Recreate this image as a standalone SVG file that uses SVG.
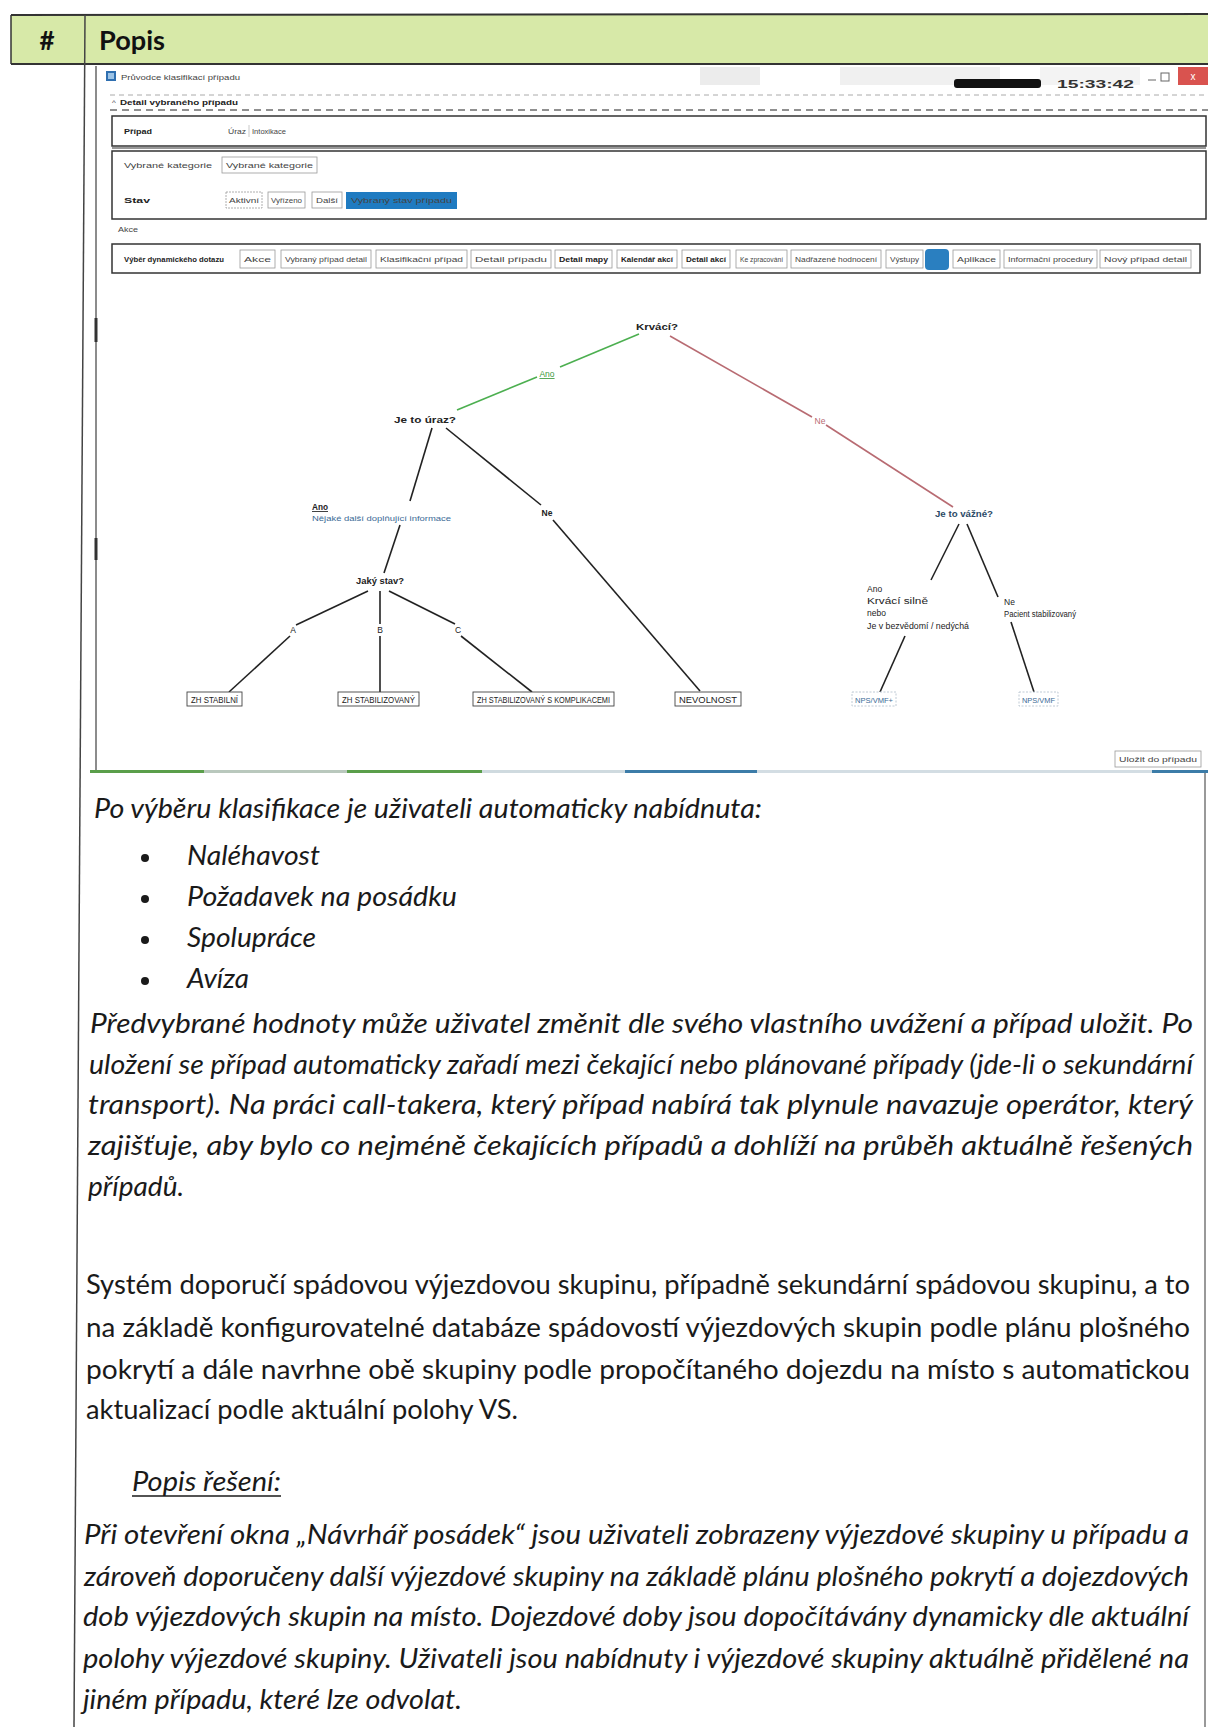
<svg xmlns="http://www.w3.org/2000/svg" width="1208" height="1727" viewBox="0 0 1208 1727">
<defs>
<style>
.hdr{font-family:Lato,'Open Sans','Liberation Sans',sans-serif;font-weight:700;font-size:26px;fill:#111}
.it{font-family:Lato,'Open Sans','Liberation Sans',sans-serif;font-style:italic;font-size:27px;fill:#1a1a1a}
.rg{font-family:Lato,'Open Sans','Liberation Sans',sans-serif;font-size:27px;fill:#1a1a1a}
.ui{font-family:'Liberation Sans',Arial,sans-serif;font-size:8px;fill:#444}
.uib{font-family:'Liberation Sans',Arial,sans-serif;font-size:8px;font-weight:700;fill:#222}
.btn{fill:#fff;stroke:#9a9a9a;stroke-width:0.8}
.box{fill:#fff;stroke:#333;stroke-width:1.5}
.t{font-family:'Liberation Sans',Arial,sans-serif;font-size:8.5px;fill:#222}
.tb{font-family:'Liberation Sans',Arial,sans-serif;font-size:8.5px;font-weight:700;fill:#222}
.tl{font-family:'Liberation Sans',Arial,sans-serif;font-size:8px;fill:#3a6a96}
.edge{stroke:#222;stroke-width:1.6;fill:none}
.leaf{fill:#fff;stroke:#444;stroke-width:0.9}
.leafl{fill:#fff;stroke:#b8c4d0;stroke-width:0.9;stroke-dasharray:2 1.5}
</style>
</defs>
<rect x="0" y="0" width="1208" height="1727" fill="#fff"/>

<g id="table">
  <rect x="11" y="15" width="1197" height="49" fill="#d7e9a8"/>
  <line x1="11" y1="15" x2="1208" y2="14" stroke="#333" stroke-width="2"/>
  <line x1="11" y1="64" x2="1208" y2="64" stroke="#333" stroke-width="2"/>
  <line x1="11" y1="15" x2="11" y2="64" stroke="#333" stroke-width="1.5"/>
  <line x1="85" y1="15" x2="74" y2="1727" stroke="#444" stroke-width="1.5"/>
  <line x1="1205" y1="772" x2="1205" y2="1727" stroke="#555" stroke-width="1.2"/>
  <text class="hdr" x="47" y="50" text-anchor="middle">#</text>
  <text class="hdr" x="99" y="50" textLength="66" lengthAdjust="spacingAndGlyphs">Popis</text>
</g>

<g id="screenshot">
  <g id="window-title">
    <rect x="700" y="67" width="60" height="18" fill="#ececec"/>
    <rect x="840" y="67" width="160" height="18" fill="#f0f0f0"/>
    <rect x="1040" y="67" width="100" height="18" fill="#f3f3f3"/>
    <rect x="106" y="71" width="10" height="10" fill="#2f6fb0"/>
    <rect x="108" y="73" width="6" height="6" fill="#9cc3e6"/>
    <text class="ui" x="121" y="80" textLength="119" lengthAdjust="spacingAndGlyphs">Průvodce klasifikací případu</text>
    <rect x="954" y="79" width="87" height="9" rx="3" fill="#111"/>
    <text x="1057" y="88" font-family="'Liberation Sans',Arial,sans-serif" font-size="11" font-weight="700" fill="#333" textLength="77" lengthAdjust="spacingAndGlyphs">15:33:42</text>
    <line x1="1148" y1="80" x2="1156" y2="80" stroke="#666" stroke-width="1"/>
    <rect x="1161" y="73" width="8" height="8" fill="none" stroke="#666" stroke-width="1"/>
    <rect x="1178" y="67" width="30" height="18" fill="#d9534f"/>
    <text x="1193" y="80" font-family="'Liberation Sans',Arial,sans-serif" font-size="10" fill="#fff" text-anchor="middle">x</text>
  </g>

  <line x1="110" y1="95" x2="1208" y2="95" stroke="#aaa" stroke-width="1" stroke-dasharray="5 4"/>
  <text class="ui" x="112" y="105">^</text>
  <text class="uib" x="120" y="105" textLength="118" lengthAdjust="spacingAndGlyphs">Detail vybraného případu</text>
  <line x1="110" y1="110" x2="1208" y2="110" stroke="#222" stroke-width="1.2" stroke-dasharray="7 5"/>

  <g id="box-case">
    <rect class="box" x="112" y="116" width="1094" height="30"/>
    <text class="uib" x="124" y="134" textLength="28" lengthAdjust="spacingAndGlyphs">Případ</text>
    <text class="ui" x="228" y="134" textLength="18" lengthAdjust="spacingAndGlyphs">Úraz</text>
    <line x1="249" y1="125" x2="249" y2="137" stroke="#bbb" stroke-width="0.8"/>
    <text class="ui" x="252" y="134" textLength="34" lengthAdjust="spacingAndGlyphs">Intoxikace</text>
  </g>
  <line x1="112" y1="148" x2="1206" y2="148" stroke="#333" stroke-width="1.2"/>

  <g id="box-state">
    <rect class="box" x="112" y="151" width="1094" height="68"/>
    <text class="ui" x="124" y="168" fill="#6f87a6" textLength="88" lengthAdjust="spacingAndGlyphs">Vybrané kategorie</text>
    <rect class="btn" x="222" y="157" width="95" height="16"/>
    <text class="ui" x="226" y="168" fill="#6f87a6" textLength="87" lengthAdjust="spacingAndGlyphs">Vybrané kategorie</text>
    <text class="uib" x="124" y="203" textLength="26" lengthAdjust="spacingAndGlyphs">Stav</text>
    <rect class="btn" x="226" y="192" width="36" height="16" stroke-dasharray="2 1"/>
    <text class="ui" x="229" y="203" textLength="30" lengthAdjust="spacingAndGlyphs">Aktivní</text>
    <rect class="btn" x="268" y="192" width="37" height="16"/>
    <text class="ui" x="271" y="203" textLength="31" lengthAdjust="spacingAndGlyphs">Vyřízeno</text>
    <rect class="btn" x="312" y="192" width="30" height="16"/>
    <text class="ui" x="316" y="203" textLength="22" lengthAdjust="spacingAndGlyphs">Další</text>
    <rect x="346" y="192" width="111" height="17" fill="#1f7bc1"/>
    <text class="ui" x="351" y="203" fill="#cfe3f5" textLength="101" lengthAdjust="spacingAndGlyphs">Vybraný stav případu</text>
  </g>

  <text class="ui" x="118" y="232" fill="#999" textLength="20" lengthAdjust="spacingAndGlyphs">Akce</text>

  <g id="box-toolbar">
    <rect class="box" x="112" y="244" width="1088" height="29"/>
    <text class="uib" x="124" y="262" textLength="100" lengthAdjust="spacingAndGlyphs">Výběr dynamického dotazu</text>
    <rect class="btn" x="240" y="250" width="35" height="18"/><text class="ui" x="244" y="262" textLength="27" lengthAdjust="spacingAndGlyphs">Akce</text>
    <rect class="btn" x="281" y="250" width="90" height="18"/><text class="ui" x="285" y="262" textLength="82" lengthAdjust="spacingAndGlyphs">Vybraný případ detail</text>
    <rect class="btn" x="376" y="250" width="91" height="18"/><text class="ui" x="380" y="262" textLength="83" lengthAdjust="spacingAndGlyphs">Klasifikační případ</text>
    <rect class="btn" x="471" y="250" width="80" height="18"/><text class="ui" x="475" y="262" textLength="72" lengthAdjust="spacingAndGlyphs">Detail případu</text>
    <rect class="btn" x="555" y="250" width="57" height="18"/><text class="uib" x="559" y="262" textLength="49" lengthAdjust="spacingAndGlyphs">Detail mapy</text>
    <rect class="btn" x="617" y="250" width="60" height="18"/><text class="uib" x="621" y="262" textLength="52" lengthAdjust="spacingAndGlyphs">Kalendář akcí</text>
    <rect class="btn" x="682" y="250" width="48" height="18"/><text class="uib" x="686" y="262" textLength="40" lengthAdjust="spacingAndGlyphs">Detail akcí</text>
    <rect class="btn" x="736" y="250" width="51" height="18"/><text class="ui" x="740" y="262" fill="#7a9cc0" textLength="43" lengthAdjust="spacingAndGlyphs">Ke zpracování</text>
    <rect class="btn" x="791" y="250" width="90" height="18"/><text class="ui" x="795" y="262" fill="#888" textLength="82" lengthAdjust="spacingAndGlyphs">Nadřazené hodnocení</text>
    <rect class="btn" x="886" y="250" width="37" height="18"/><text class="ui" x="890" y="262" fill="#888" textLength="29" lengthAdjust="spacingAndGlyphs">Výstupy</text>
    <rect x="925" y="249" width="24" height="21" rx="4" fill="#2a7fc0"/>
    <rect class="btn" x="953" y="250" width="47" height="18"/><text class="ui" x="957" y="262" fill="#888" textLength="39" lengthAdjust="spacingAndGlyphs">Aplikace</text>
    <rect class="btn" x="1004" y="250" width="93" height="18"/><text class="ui" x="1008" y="262" fill="#888" textLength="85" lengthAdjust="spacingAndGlyphs">Informační procedury</text>
    <rect class="btn" x="1100" y="250" width="91" height="18"/><text class="ui" x="1104" y="262" fill="#888" textLength="83" lengthAdjust="spacingAndGlyphs">Nový případ detail</text>
  </g>

  <line x1="96" y1="66" x2="96" y2="773" stroke="#666" stroke-width="1.5"/>
  <line x1="96" y1="318" x2="96" y2="342" stroke="#333" stroke-width="3"/>
  <line x1="96" y1="538" x2="96" y2="560" stroke="#333" stroke-width="3"/>

  <g id="connectors">
    <line x1="639" y1="334" x2="560" y2="367" stroke="#4caf50" stroke-width="1.6"/>
    <line x1="537" y1="377" x2="457" y2="410" stroke="#4caf50" stroke-width="1.6"/>
    <line x1="670" y1="336" x2="812" y2="417" stroke="#b86b72" stroke-width="1.6"/>
    <line x1="826" y1="425" x2="953" y2="507" stroke="#b86b72" stroke-width="1.6"/>
    <line class="edge" x1="432" y1="428" x2="410" y2="501"/>
    <line class="edge" x1="400" y1="525" x2="384" y2="573"/>
    <line class="edge" x1="446" y1="428" x2="541" y2="505"/>
    <line class="edge" x1="553" y1="520" x2="700" y2="691"/>
    <line class="edge" x1="368" y1="591" x2="296" y2="625"/>
    <line class="edge" x1="290" y1="636" x2="229" y2="692"/>
    <line class="edge" x1="380" y1="591" x2="380" y2="624"/>
    <line class="edge" x1="380" y1="636" x2="380" y2="692"/>
    <line class="edge" x1="389" y1="591" x2="455" y2="624"/>
    <line class="edge" x1="461" y1="636" x2="532" y2="692"/>
    <line class="edge" x1="959" y1="524" x2="931" y2="580"/>
    <line class="edge" x1="905" y1="636" x2="880" y2="692"/>
    <line class="edge" x1="967" y1="524" x2="998" y2="597"/>
    <line class="edge" x1="1011" y1="622" x2="1034" y2="692"/>
  </g>

  <g id="node-krvaci"><text class="tb" x="657" y="330" text-anchor="middle" textLength="42" lengthAdjust="spacingAndGlyphs">Krvácí?</text></g>
  <g id="label-ano1"><text x="547" y="377" font-family="'Liberation Sans',Arial,sans-serif" font-size="8.5" fill="#3c9a40" text-anchor="middle" text-decoration="underline">Ano</text></g>
  <g id="label-ne1"><text x="820" y="424" font-family="'Liberation Sans',Arial,sans-serif" font-size="8.5" fill="#b86b72" text-anchor="middle">Ne</text></g>
  <g id="node-uraz"><text class="tb" x="425" y="423" text-anchor="middle" textLength="62" lengthAdjust="spacingAndGlyphs">Je to úraz?</text></g>
  <g id="label-ano2">
    <text class="tb" x="312" y="510" text-decoration="underline" textLength="16" lengthAdjust="spacingAndGlyphs">Ano</text>
    <text class="tl" x="312" y="521" textLength="139" lengthAdjust="spacingAndGlyphs">Nějaké další doplňující informace</text>
  </g>
  <g id="label-ne2"><text class="tb" x="547" y="516" text-anchor="middle">Ne</text></g>
  <g id="node-stav"><text class="tb" x="380" y="584" text-anchor="middle" textLength="48" lengthAdjust="spacingAndGlyphs">Jaký stav?</text></g>
  <g id="label-a"><text class="t" x="293" y="633" text-anchor="middle">A</text></g>
  <g id="label-b"><text class="t" x="380" y="633" text-anchor="middle">B</text></g>
  <g id="label-c"><text class="t" x="458" y="633" text-anchor="middle">C</text></g>
  <g id="leaf-zh1">
    <rect class="leaf" x="187" y="692" width="55" height="14"/>
    <text class="t" x="191" y="703" textLength="47" lengthAdjust="spacingAndGlyphs">ZH STABILNÍ</text>
  </g>
  <g id="leaf-zh2">
    <rect class="leaf" x="338" y="692" width="81" height="14"/>
    <text class="t" x="342" y="703" textLength="73" lengthAdjust="spacingAndGlyphs">ZH STABILIZOVANÝ</text>
  </g>
  <g id="leaf-zh3">
    <rect class="leaf" x="473" y="692" width="141" height="14" stroke="#c4c4c4"/>
    <text class="t" x="477" y="703" fill="#5b7590" textLength="133" lengthAdjust="spacingAndGlyphs">ZH STABILIZOVANÝ S KOMPLIKACEMI</text>
  </g>
  <g id="leaf-nevolnost">
    <rect class="leaf" x="675" y="692" width="66" height="14"/>
    <text class="t" x="679" y="703" textLength="58" lengthAdjust="spacingAndGlyphs">NEVOLNOST</text>
  </g>
  <g id="node-vazne"><text x="964" y="517" font-family="'Liberation Sans',Arial,sans-serif" font-size="9" font-weight="700" fill="#2c4a66" text-anchor="middle" textLength="58" lengthAdjust="spacingAndGlyphs">Je to vážné?</text></g>
  <g id="label-ano3">
    <text class="t" x="867" y="592" font-size="7.5">Ano</text>
    <text class="t" x="867" y="604" textLength="61" lengthAdjust="spacingAndGlyphs">Krvácí silně</text>
    <text class="t" x="867" y="616" font-size="7.5">nebo</text>
    <text class="t" x="867" y="629" textLength="102" lengthAdjust="spacingAndGlyphs">Je v bezvědomí / nedýchá</text>
  </g>
  <g id="label-ne3">
    <text class="t" x="1004" y="605">Ne</text>
    <text class="t" x="1004" y="617" textLength="72" lengthAdjust="spacingAndGlyphs">Pacient stabilizovaný</text>
  </g>
  <g id="leaf-nps1">
    <rect class="leafl" x="852" y="692" width="44" height="14"/>
    <text class="tl" x="855" y="703" textLength="38" lengthAdjust="spacingAndGlyphs">NPS/VMF+</text>
  </g>
  <g id="leaf-nps2">
    <rect class="leafl" x="1019" y="692" width="39" height="14"/>
    <text class="tl" x="1022" y="703" textLength="33" lengthAdjust="spacingAndGlyphs">NPS/VMF</text>
  </g>

  <g id="save-button">
    <rect class="btn" x="1115" y="751" width="86" height="16" stroke="#aaa"/>
    <text class="ui" x="1119" y="762" textLength="78" lengthAdjust="spacingAndGlyphs">Uložit do případu</text>
  </g>

  <g id="progress">
    <rect x="90" y="770" width="114" height="3" fill="#5a9e4a"/>
    <rect x="204" y="770" width="143" height="3" fill="#b9c8bd"/>
    <rect x="347" y="770" width="135" height="3" fill="#5a9e4a"/>
    <rect x="482" y="770" width="143" height="3" fill="#cfdadf"/>
    <rect x="625" y="770" width="132" height="3" fill="#3c7ca8"/>
    <rect x="757" y="770" width="395" height="3" fill="#d3dde3"/>
    <rect x="1152" y="770" width="56" height="3" fill="#3c7ca8"/>
  </g>
</g>

<g id="text-offer">
  <text class="it" x="94" y="818" textLength="668" lengthAdjust="spacingAndGlyphs">Po výběru klasifikace je uživateli automaticky nabídnuta:</text>
  <circle cx="145" cy="858" r="4" fill="#1a1a1a"/>
  <text class="it" x="187" y="865" textLength="133" lengthAdjust="spacingAndGlyphs">Naléhavost</text>
  <circle cx="145" cy="899" r="4" fill="#1a1a1a"/>
  <text class="it" x="187" y="906" textLength="270" lengthAdjust="spacingAndGlyphs">Požadavek na posádku</text>
  <circle cx="145" cy="940" r="4" fill="#1a1a1a"/>
  <text class="it" x="187" y="947" textLength="129" lengthAdjust="spacingAndGlyphs">Spolupráce</text>
  <circle cx="145" cy="981" r="4" fill="#1a1a1a"/>
  <text class="it" x="187" y="988" textLength="62" lengthAdjust="spacingAndGlyphs">Avíza</text>
</g>

<g id="text-paragraph-1">
  <text class="it" x="90" y="1033" textLength="1103" lengthAdjust="spacingAndGlyphs">Předvybrané hodnoty může uživatel změnit dle svého vlastního uvážení a případ uložit. Po</text>
  <text class="it" x="89" y="1074" textLength="1104" lengthAdjust="spacingAndGlyphs">uložení se případ automaticky zařadí mezi čekající nebo plánované případy (jde-li o sekundární</text>
  <text class="it" x="88" y="1114" textLength="1105" lengthAdjust="spacingAndGlyphs">transport). Na práci call-takera, který případ nabírá tak plynule navazuje operátor, který</text>
  <text class="it" x="88" y="1155" textLength="1105" lengthAdjust="spacingAndGlyphs">zajišťuje, aby bylo co nejméně čekajících případů a dohlíží na průběh aktuálně řešených</text>
  <text class="it" x="88" y="1196" textLength="96" lengthAdjust="spacingAndGlyphs">případů.</text>
</g>

<g id="text-paragraph-2">
  <text class="rg" x="86" y="1294" textLength="1104" lengthAdjust="spacingAndGlyphs">Systém doporučí spádovou výjezdovou skupinu, případně sekundární spádovou skupinu, a to</text>
  <text class="rg" x="86" y="1337" textLength="1104" lengthAdjust="spacingAndGlyphs">na základě konfigurovatelné databáze spádovostí výjezdových skupin podle plánu plošného</text>
  <text class="rg" x="86" y="1379" textLength="1104" lengthAdjust="spacingAndGlyphs">pokrytí a dále navrhne obě skupiny podle propočítaného dojezdu na místo s automatickou</text>
  <text class="rg" x="86" y="1419" textLength="432" lengthAdjust="spacingAndGlyphs">aktualizací podle aktuální polohy VS.</text>
</g>

<g id="text-solution">
  <text class="it" x="132" y="1491" textLength="149" lengthAdjust="spacingAndGlyphs">Popis řešení:</text>
  <line x1="132" y1="1496" x2="281" y2="1496" stroke="#1a1a1a" stroke-width="1.5"/>
  <text class="it" x="84" y="1544" textLength="1105" lengthAdjust="spacingAndGlyphs">Při otevření okna „Návrhář posádek“ jsou uživateli zobrazeny výjezdové skupiny u případu a</text>
  <text class="it" x="84" y="1586" textLength="1105" lengthAdjust="spacingAndGlyphs">zároveň doporučeny další výjezdové skupiny na základě plánu plošného pokrytí a dojezdových</text>
  <text class="it" x="83" y="1626" textLength="1106" lengthAdjust="spacingAndGlyphs">dob výjezdových skupin na místo. Dojezdové doby jsou dopočítávány dynamicky dle aktuální</text>
  <text class="it" x="83" y="1668" textLength="1106" lengthAdjust="spacingAndGlyphs">polohy výjezdové skupiny. Uživateli jsou nabídnuty i výjezdové skupiny aktuálně přidělené na</text>
  <text class="it" x="83" y="1709" textLength="379" lengthAdjust="spacingAndGlyphs">jiném případu, které lze odvolat.</text>
</g>
</svg>
